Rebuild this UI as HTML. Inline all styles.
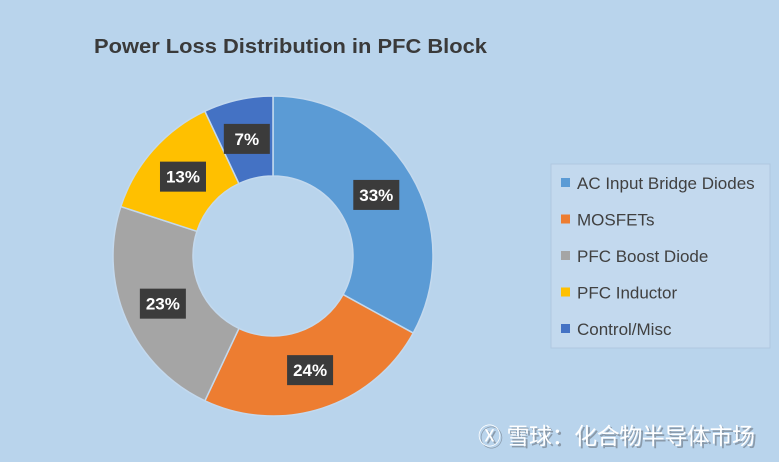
<!DOCTYPE html>
<html><head><meta charset="utf-8"><style>
body{margin:0;width:779px;height:462px;background:#b9d4ec;overflow:hidden;font-family:"Liberation Sans","Noto Sans CJK SC",sans-serif}
svg{position:absolute;left:0;top:0}
</style></head><body>
<svg width="779" height="462">
<text x="94" y="53" font-size="20" font-weight="bold" fill="#3a3a3a" textLength="393" lengthAdjust="spacingAndGlyphs">Power Loss Distribution in PFC Block</text>
<g id="slices"></g><g id="labels"></g>
<rect x="551" y="164" width="219" height="184" fill="#c3d9ee" stroke="#b0c8e0"/>
<g id="legend"></g>
<text x="480" y="446" font-size="23" fill="#8a9aaa" textLength="277">Ⓧ 雪球：化合物半导体市场</text>
<text x="478" y="444" font-size="23" fill="#ffffff" textLength="277">Ⓧ 雪球：化合物半导体市场</text>
</svg>
<script>
const categories=["AC Input Bridge Diodes","MOSFETs","PFC Boost Diode","PFC Inductor","Control/Misc"];
const values=[33,24,23,13,7];
const colors=["#5b9bd5","#ed7d31","#a5a5a5","#ffc000","#4472c4"];
const NS="http://www.w3.org/2000/svg";
const cx=273,cy=256,R=160,r=80,LR=120;
const total=values.reduce((a,b)=>a+b,0);
function pt(rad,a){return [cx+rad*Math.sin(a),cy-rad*Math.cos(a)];}
let acc=0;
const sg=document.getElementById('slices'),lg=document.getElementById('labels'),leg=document.getElementById('legend');
values.forEach((v,i)=>{
 const a0=acc/total*2*Math.PI;acc+=v;const a1=acc/total*2*Math.PI;
 const big=(a1-a0)>Math.PI?1:0;
 const [x0,y0]=pt(R,a0),[x1,y1]=pt(R,a1),[x2,y2]=pt(r,a1),[x3,y3]=pt(r,a0);
 const p=document.createElementNS(NS,'path');
 p.setAttribute('d',`M${x0},${y0}A${R},${R} 0 ${big} 1 ${x1},${y1}L${x2},${y2}A${r},${r} 0 ${big} 0 ${x3},${y3}Z`);
 p.setAttribute('fill',colors[i]);p.setAttribute('stroke','#c3d9ee');p.setAttribute('stroke-width','1.5');
 
 
 sg.appendChild(p);
 const [lx,ly]=pt(LR,(a0+a1)/2);
 const b=document.createElementNS(NS,'rect');
 b.setAttribute('x',lx-23);b.setAttribute('y',ly-15);b.setAttribute('width',46);b.setAttribute('height',30);b.setAttribute('fill','#3b3b3b');
 
 
 lg.appendChild(b);
 const t=document.createElementNS(NS,'text');
 t.setAttribute('x',lx);t.setAttribute('y',ly+6);t.setAttribute('text-anchor','middle');t.setAttribute('font-size','17');t.setAttribute('font-weight','bold');t.setAttribute('fill','#fff');
 t.textContent=v+'%';
 
 
 lg.appendChild(t);
 const y=183+i*36.5;
 const s=document.createElementNS(NS,'rect');
 s.setAttribute('x',561);s.setAttribute('y',y-5);s.setAttribute('width',9);s.setAttribute('height',9);s.setAttribute('fill',colors[i]);
 
 
 leg.appendChild(s);
 const lt=document.createElementNS(NS,'text');
 lt.setAttribute('x',577);lt.setAttribute('y',y+6);lt.setAttribute('font-size','17');lt.setAttribute('fill','#404040');
 lt.textContent=categories[i];
 
 
 leg.appendChild(lt);
});
</script>
</body></html>
